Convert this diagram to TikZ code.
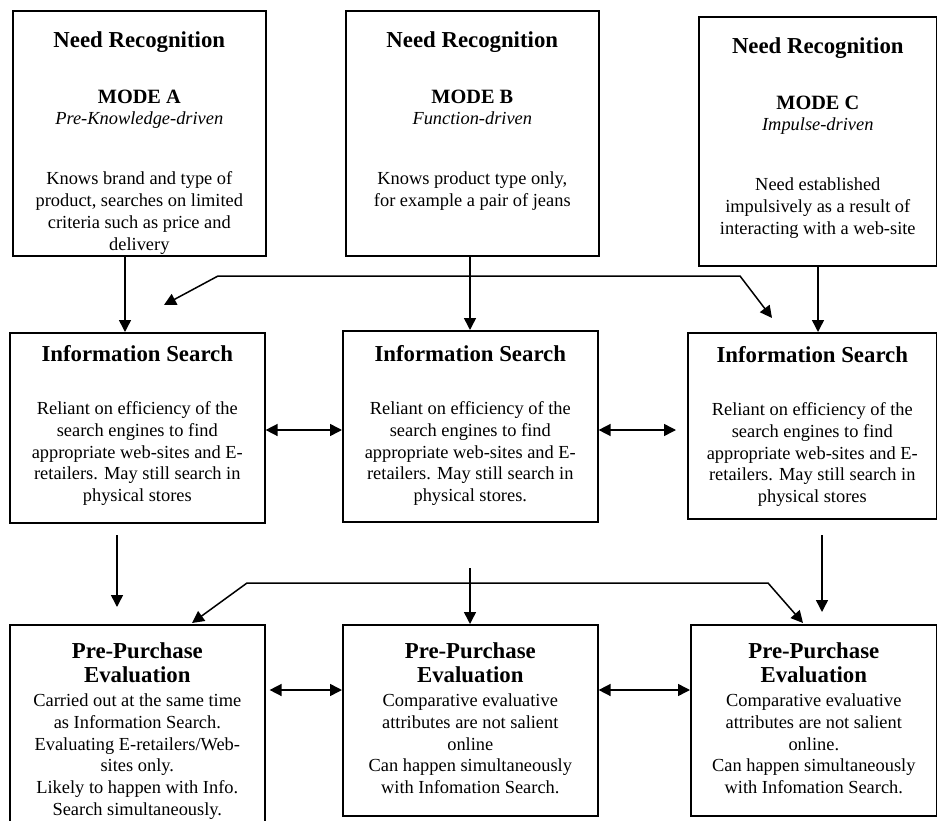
\documentclass[tikz,border=0pt]{standalone}
\usepackage{fontspec}
\setmainfont{Liberation Serif}
\usetikzlibrary{arrows.meta}

% Type sizes used inside the stage boxes
\newcommand\ttlfont{\fontsize{22.8}{24}\selectfont\bfseries}
\newcommand\modefont{\fontsize{20.3}{24}\selectfont\bfseries}
\newcommand\itfont{\fontsize{18.4}{21.5}\selectfont\itshape}
\newcommand\bodyfont{\fontsize{18.4}{21.7}\selectfont}
\newcommand\firstline{\rule{0pt}{20pt}}
% fixed-size text block: width, height, content (top aligned, centred lines)
\newcommand\stagetext[3]{\parbox[c][#2][t]{#1}{\centering #3}}

\begin{document}
\begin{tikzpicture}[x=1pt, y={(0pt,-1pt)},
  stage/.style={draw, line width=1.6pt, inner sep=0pt, anchor=north west},
  link/.style={line width=1.5pt, -{Triangle[length=12pt,width=12pt]}},
  dlink/.style={line width=1.5pt, {Triangle[length=12pt,width=12pt]}-{Triangle[length=12pt,width=12pt]}}]
\useasboundingbox (0,0) rectangle (937,821);

% ---- Need recognition ----
\node[stage] (nrA) at (12,10) {\stagetext{253pt}{245pt}{%
  \vspace*{16.7pt}{\ttlfont\firstline Need Recognition\par}%
  \vspace{32pt}{\modefont MODE A\par}%
  {\itfont Pre-Knowledge-driven\par}%
  \vspace{38.3pt}{\bodyfont Knows brand and type of\\product, searches on limited\\criteria such as price and\\delivery\par}}};

\node[stage] (nrB) at (345,10) {\stagetext{253pt}{245pt}{%
  \vspace*{16.7pt}{\ttlfont\firstline Need Recognition\par}%
  \vspace{32pt}{\modefont MODE B\par}%
  {\itfont Function-driven\par}%
  \vspace{38.3pt}{\bodyfont Knows product type only,\\for example a pair of jeans\par}}};

\node[stage] (nrC) at (698,16) {\stagetext{238pt}{249pt}{%
  \vspace*{16.7pt}{\ttlfont\firstline Need Recognition\par}%
  \vspace{32pt}{\modefont MODE C\par}%
  {\itfont Impulse-driven\par}%
  \vspace{38.3pt}{\bodyfont Need established\\impulsively as a result of\\interacting with a web-site\par}}};

% ---- Information search ----
\node[stage] (isA) at (9,332) {\stagetext{255pt}{190pt}{%
  \vspace*{9pt}{\ttlfont\firstline Information Search\par}%
  \vspace{31.3pt}{\bodyfont Reliant on efficiency of the\\search engines to find\\appropriate web-sites and E-\\retailers. May still search in\\physical stores\par}}};

\node[stage] (isB) at (342,330) {\stagetext{255pt}{191pt}{%
  \vspace*{11pt}{\ttlfont\firstline Information Search\par}%
  \vspace{31.3pt}{\bodyfont Reliant on efficiency of the\\search engines to find\\appropriate web-sites and E-\\retailers. May still search in\\physical stores.\par}}};

\node[stage] (isC) at (687,332) {\stagetext{249pt}{186pt}{%
  \vspace*{10pt}{\ttlfont\firstline Information Search\par}%
  \vspace{31.3pt}{\bodyfont Reliant on efficiency of the\\search engines to find\\appropriate web-sites and E-\\retailers. May still search in\\physical stores\par}}};

% ---- Pre-purchase evaluation ----
\node[stage] (ppA) at (9,624) {\stagetext{255pt}{205pt}{%
  \vspace*{14pt}{\ttlfont\firstline Pre-Purchase\\Evaluation\par}%
  \vspace{2.3pt}{\bodyfont Carried out at the same time\\as Information Search.\\Evaluating E-retailers/Web-\\sites only.\\Likely to happen with Info.\\Search simultaneously.\par}}};

\node[stage] (ppB) at (342,624) {\stagetext{255pt}{191pt}{%
  \vspace*{14pt}{\ttlfont\firstline Pre-Purchase\\Evaluation\par}%
  \vspace{2.3pt}{\bodyfont Comparative evaluative\\attributes are not salient\\online\\Can happen simultaneously\\with Infomation Search.\par}}};

\node[stage] (ppC) at (690,624) {\stagetext{246pt}{191pt}{%
  \vspace*{14pt}{\ttlfont\firstline Pre-Purchase\\Evaluation\par}%
  \vspace{2.3pt}{\bodyfont Comparative evaluative\\attributes are not salient\\online.\\Can happen simultaneously\\with Infomation Search.\par}}};

% ---- columns and rows used by the connectors ----
\coordinate (colA) at (125,0);
\coordinate (colB) at (470,0);
\coordinate (colC) at (818,0);
\coordinate (rowIS) at (0,430);
\coordinate (rowPP) at (0,690);

% need recognition -> information search
\draw[link] (nrA.south -| colA) -- (isA.north -| colA);
\draw[link] (nrB.south -| colB) -- (isB.north -| colB);
\draw[link] (nrC.south -| colC) -- (isC.north -| colC);

\coordinate (upTipL) at (164,305);
\coordinate (upBendL) at (218,276);
\coordinate (upBendR) at (740,276);
\coordinate (upTipR) at (772,318);
\draw[dlink] (upTipL) -- (upBendL) -- (upBendR) -- (upTipR);

% links between the information search modes
\coordinate (isGapC) at (676,430);
\draw[dlink] (isA.east |- rowIS) -- (isB.west |- rowIS);
\draw[dlink] (isB.east |- rowIS) -- (isGapC);

% information search -> pre-purchase evaluation
\coordinate (dnStartA) at (117,535);
\coordinate (dnTipA) at (117,607);
\coordinate (dnStartB) at (470,568);
\coordinate (dnStartC) at (822,535);
\coordinate (dnTipC) at (822,612);
\draw[link] (dnStartA) -- (dnTipA);
\draw[link] (dnStartB) -- (ppB.north -| colB);
\draw[link] (dnStartC) -- (dnTipC);

\coordinate (loTipL) at (192,623);
\coordinate (loBendL) at (247,583);
\coordinate (loBendR) at (768,583);
\coordinate (loTipR) at (803,623);
\draw[dlink] (loTipL) -- (loBendL) -- (loBendR) -- (loTipR);

% links between the evaluation modes
\draw[dlink] ([xshift=4pt]ppA.east |- rowPP) -- (ppB.west |- rowPP);
\draw[dlink] (ppB.east |- rowPP) -- (ppC.west |- rowPP);
\end{tikzpicture}
\end{document}
